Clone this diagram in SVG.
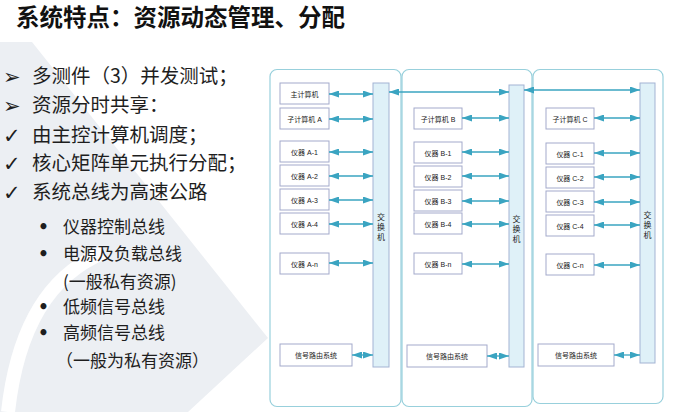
<svg xmlns="http://www.w3.org/2000/svg" width="680" height="412" viewBox="0 0 680 412">
<defs>
<marker id="ah" viewBox="0 0 10 7" refX="10" refY="3.5" markerWidth="10" markerHeight="7" markerUnits="userSpaceOnUse" orient="auto-start-reverse">
<path d="M0,0 L10,3.5 L0,7 Z" fill="#3aa4c1"/>
</marker>
</defs>
<style>
.panel{fill:#ffffff;stroke:#98d0dc;stroke-width:1.2}
.box{fill:#ffffff;stroke:#a3aacb;stroke-width:1}
.sw{fill:#dff1f8;stroke:#a3b3d3;stroke-width:1}
.lbl{font-family:"Liberation Sans","Noto Sans CJK SC",sans-serif;font-size:7px;fill:#222;text-anchor:middle}
.swt{font-family:"Noto Sans CJK SC",sans-serif;font-size:8px;fill:#222;text-anchor:middle}
.con line{stroke:#3aa4c1;stroke-width:1.3;marker-start:url(#ah);marker-end:url(#ah)}
.t1{font-family:"Noto Sans CJK SC",sans-serif;font-size:19.5px;fill:#1e1e1e}
.t2{font-family:"Noto Sans CJK SC",sans-serif;font-size:17px;fill:#1e1e1e}
.bul{font-family:"DejaVu Sans",sans-serif;font-size:21px;font-weight:bold;fill:#1e1e1e}
.dot{font-family:"DejaVu Sans",sans-serif;font-size:17px;font-weight:bold;fill:#1e1e1e}
</style>
<rect width="680" height="412" fill="#ffffff"/>
<g id="background">
<path d="M0,42 L32,42 L268,338 L188,412 L0,412 Z" fill="#eceff3"/>
<path d="M105,252 Q22,285 8,412" fill="none" stroke="#ffffff" stroke-width="14"/>
</g>
<g id="title">
<text x="16" y="25.5" font-family="Noto Sans CJK SC,sans-serif" font-size="23.5" font-weight="bold" fill="#111">系统特点：资源动态管理、分配</text>
</g>
<g id="bullets">
<text class="bul" x="3" y="84">➢</text>
<text class="t1" x="32" y="83">多测件（3）并发测试；</text>
<text class="bul" x="3" y="113">➢</text>
<text class="t1" x="32" y="112">资源分时共享：</text>
<text class="bul" x="3" y="143">✓</text>
<text class="t1" x="32" y="142">由主控计算机调度；</text>
<text class="bul" x="3" y="171">✓</text>
<text class="t1" x="32" y="170">核心矩阵单元执行分配；</text>
<text class="bul" x="3" y="200">✓</text>
<text class="t1" x="32" y="199">系统总线为高速公路</text>
<text class="dot" x="38" y="233">•</text>
<text class="t2" x="63" y="233">仪器控制总线</text>
<text class="dot" x="38" y="260">•</text>
<text class="t2" x="63" y="260">电源及负载总线</text>
<text class="t2" x="63" y="288">(一般私有资源)</text>
<text class="dot" x="38" y="313">•</text>
<text class="t2" x="63" y="313">低频信号总线</text>
<text class="dot" x="38" y="339">•</text>
<text class="t2" x="63" y="339">高频信号总线</text>
<text class="t2" x="56" y="367">（一般为私有资源）</text>
</g>
<g id="panels">
<rect id="panelA" class="panel" x="270" y="69.5" width="131" height="337" rx="7"/>
<rect id="panelB" class="panel" x="402" y="69.5" width="130" height="337" rx="7"/>
<rect id="panelC" class="panel" x="533" y="69.5" width="130" height="334" rx="7"/>
</g>
<g id="switchA"><rect class="sw" x="373" y="83" width="16" height="284"/><text class="swt" x="381" y="220">交<tspan x="381" dy="10">换</tspan><tspan x="381" dy="10">机</tspan></text></g>
<g id="switchB"><rect class="sw" x="509" y="85" width="15" height="282"/><text class="swt" x="516.5" y="222">交<tspan x="516.5" dy="10">换</tspan><tspan x="516.5" dy="10">机</tspan></text></g>
<g id="switchC"><rect class="sw" x="640" y="83" width="15" height="280"/><text class="swt" x="647.5" y="218">交<tspan x="647.5" dy="10">换</tspan><tspan x="647.5" dy="10">机</tspan></text></g>
<g id="mainPC"><rect class="box" x="280" y="83" width="49" height="21"/><text class="lbl" x="304.5" y="96.5">主计算机</text></g>
<g id="subA"><rect class="box" x="280" y="108" width="49" height="21"/><text class="lbl" x="304.5" y="121.5">子计算机 A</text></g>
<g id="A1"><rect class="box" x="280" y="141" width="49" height="21"/><text class="lbl" x="304.5" y="154.5">仪器 A-1</text></g>
<g id="A2"><rect class="box" x="280" y="165" width="49" height="21"/><text class="lbl" x="304.5" y="178.5">仪器 A-2</text></g>
<g id="A3"><rect class="box" x="280" y="189" width="49" height="21"/><text class="lbl" x="304.5" y="202.5">仪器 A-3</text></g>
<g id="A4"><rect class="box" x="280" y="213" width="49" height="21"/><text class="lbl" x="304.5" y="226.5">仪器 A-4</text></g>
<g id="An"><rect class="box" x="280" y="253" width="49" height="21"/><text class="lbl" x="304.5" y="266.5">仪器 A-n</text></g>
<g id="routeA"><rect class="box" x="280" y="344" width="72" height="22"/><text class="lbl" x="316" y="357.5">信号路由系统</text></g>
<g id="subB"><rect class="box" x="414" y="108" width="48" height="21"/><text class="lbl" x="438" y="121.5">子计算机 B</text></g>
<g id="B1"><rect class="box" x="414" y="142" width="48" height="21"/><text class="lbl" x="438" y="155.5">仪器 B-1</text></g>
<g id="B2"><rect class="box" x="414" y="166" width="48" height="21"/><text class="lbl" x="438" y="179.5">仪器 B-2</text></g>
<g id="B3"><rect class="box" x="414" y="190" width="48" height="21"/><text class="lbl" x="438" y="203.5">仪器 B-3</text></g>
<g id="B4"><rect class="box" x="414" y="213" width="48" height="21"/><text class="lbl" x="438" y="226.5">仪器 B-4</text></g>
<g id="Bn"><rect class="box" x="414" y="253" width="48" height="21"/><text class="lbl" x="438" y="266.5">仪器 B-n</text></g>
<g id="routeB"><rect class="box" x="407" y="345" width="80" height="22"/><text class="lbl" x="447" y="358.5">信号路由系统</text></g>
<g id="subC"><rect class="box" x="546" y="108" width="48" height="21"/><text class="lbl" x="570" y="121.5">子计算机 C</text></g>
<g id="C1"><rect class="box" x="546" y="143" width="48" height="21"/><text class="lbl" x="570" y="156.5">仪器 C-1</text></g>
<g id="C2"><rect class="box" x="546" y="167" width="48" height="21"/><text class="lbl" x="570" y="180.5">仪器 C-2</text></g>
<g id="C3"><rect class="box" x="546" y="191" width="48" height="21"/><text class="lbl" x="570" y="204.5">仪器 C-3</text></g>
<g id="C4"><rect class="box" x="546" y="215" width="48" height="21"/><text class="lbl" x="570" y="228.5">仪器 C-4</text></g>
<g id="Cn"><rect class="box" x="546" y="254" width="48" height="21"/><text class="lbl" x="570" y="267.5">仪器 C-n</text></g>
<g id="routeC"><rect class="box" x="538" y="344" width="76" height="22"/><text class="lbl" x="576" y="357.5">信号路由系统</text></g>
<g id="connectors" class="con">
<line x1="329" y1="94" x2="373" y2="94"/>
<line x1="329" y1="119" x2="373" y2="119"/>
<line x1="329" y1="152" x2="373" y2="152"/>
<line x1="329" y1="176" x2="373" y2="176"/>
<line x1="329" y1="200" x2="373" y2="200"/>
<line x1="329" y1="224" x2="373" y2="224"/>
<line x1="329" y1="263" x2="373" y2="263"/>
<line x1="352" y1="355" x2="373" y2="355"/>
<line x1="389" y1="92" x2="509" y2="92"/>
<line x1="524" y1="90" x2="640" y2="90"/>
<line x1="462" y1="118" x2="509" y2="118"/>
<line x1="462" y1="152" x2="509" y2="152"/>
<line x1="462" y1="176" x2="509" y2="176"/>
<line x1="462" y1="201" x2="509" y2="201"/>
<line x1="462" y1="224" x2="509" y2="224"/>
<line x1="462" y1="264" x2="509" y2="264"/>
<line x1="487" y1="356" x2="509" y2="356"/>
<line x1="594" y1="118" x2="640" y2="118"/>
<line x1="594" y1="153" x2="640" y2="153"/>
<line x1="594" y1="177" x2="640" y2="177"/>
<line x1="594" y1="202" x2="640" y2="202"/>
<line x1="594" y1="225" x2="640" y2="225"/>
<line x1="594" y1="265" x2="640" y2="265"/>
<line x1="614" y1="355" x2="640" y2="355"/>
</g>
</svg>
